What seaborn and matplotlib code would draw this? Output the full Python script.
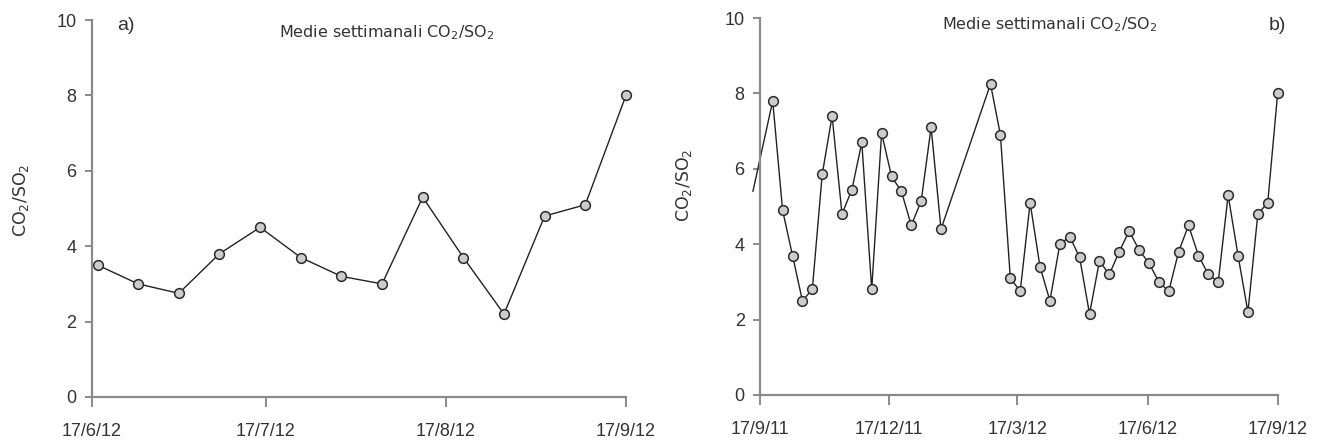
import pandas as pd
import seaborn as sns
import matplotlib.pyplot as plt

# Weekly averages CO2/SO2 - panel a (last three months)
dates_a = ["2012-06-18", "2012-06-25", "2012-07-02", "2012-07-09", "2012-07-16",
           "2012-07-23", "2012-07-30", "2012-08-06", "2012-08-13", "2012-08-20",
           "2012-08-27", "2012-09-03", "2012-09-10", "2012-09-17"]
ratio_a = [3.5, 3.0, 2.75, 3.8, 4.5, 3.7, 3.2, 3.0, 5.3, 3.7, 2.2, 4.8, 5.1, 8.0]

# panel b (one year, gap between late January and late February)
dates_b = ["2011-09-12",
           "2011-09-26", "2011-10-03", "2011-10-10", "2011-10-17", "2011-10-24",
           "2011-10-31", "2011-11-07", "2011-11-14", "2011-11-21", "2011-11-28",
           "2011-12-05", "2011-12-12", "2011-12-19", "2011-12-26", "2012-01-02",
           "2012-01-09", "2012-01-16", "2012-01-23",
           "2012-02-27", "2012-03-05", "2012-03-12", "2012-03-19", "2012-03-26",
           "2012-04-02", "2012-04-09", "2012-04-16", "2012-04-23", "2012-04-30",
           "2012-05-07", "2012-05-14", "2012-05-21", "2012-05-28", "2012-06-04",
           "2012-06-11", "2012-06-18", "2012-06-25", "2012-07-02", "2012-07-09",
           "2012-07-16", "2012-07-23", "2012-07-30", "2012-08-06", "2012-08-13",
           "2012-08-20", "2012-08-27", "2012-09-03", "2012-09-10", "2012-09-17"]
ratio_b = [5.4,
           7.8, 4.9, 3.7, 2.5, 2.8, 5.85, 7.4, 4.8, 5.45, 6.7,
           2.8, 6.95, 5.8, 5.4, 4.5, 5.15, 7.1, 4.4,
           8.25, 6.9, 3.1, 2.75, 5.1, 3.4, 2.5, 4.0, 4.2, 3.65,
           2.15, 3.55, 3.2, 3.8, 4.35, 3.85, 3.5, 3.0, 2.75, 3.8,
           4.5, 3.7, 3.2, 3.0, 5.3, 3.7, 2.2, 4.8, 5.1, 8.0]

ticks_a = ["2012-06-17", "2012-07-17", "2012-08-17", "2012-09-17"]
labels_a = ["17/6/12", "17/7/12", "17/8/12", "17/9/12"]
ticks_b = ["2011-09-17", "2011-12-17", "2012-03-17", "2012-06-17", "2012-09-17"]
labels_b = ["17/9/11", "17/12/11", "17/3/12", "17/6/12", "17/9/12"]

df_a = pd.DataFrame({"data": pd.to_datetime(dates_a), "ratio": ratio_a})
df_b = pd.DataFrame({"data": pd.to_datetime(dates_b), "ratio": ratio_b})

sns.set_style("ticks")
plt.rcParams["font.family"] = ["Liberation Sans", "DejaVu Sans"]
plt.rcParams["mathtext.fontset"] = "dejavusans"

fig = plt.figure(figsize=(13.27, 4.44), dpi=100)
ax1 = fig.add_axes([0.0691, 0.1059, 0.4026, 0.849])
ax2 = fig.add_axes([0.5727, 0.1104, 0.3901, 0.849])

line_kws = dict(marker="o", color="#222222", linewidth=1.0, markersize=7,
                markerfacecolor="#cccccc", markeredgecolor="#2a2a2a",
                markeredgewidth=1.1, clip_on=False)

sns.lineplot(data=df_a, x="data", y="ratio", ax=ax1, **line_kws)
sns.lineplot(data=df_b, x="data", y="ratio", ax=ax2, **line_kws)
# first point of panel b lies before the axis start: no marker there
ax2.lines[0].set_markevery(list(range(1, len(ratio_b))))

panels = [(ax1, ticks_a, labels_a), (ax2, ticks_b, labels_b)]
for ax, tks, lbls in panels:
    tk = pd.to_datetime(tks)
    ax.set_xlim(tk[0], tk[-1])
    ax.set_xticks(tk)
    ax.set_xticklabels(lbls)
    ax.set_ylim(0, 10)
    ax.set_yticks([0, 2, 4, 6, 8, 10])
    ax.set_xlabel("")
    ax.set_ylabel("")
    for side in ["top", "right"]:
        ax.spines[side].set_visible(False)
    for side in ["left", "bottom"]:
        ax.spines[side].set_color("#8a8a8a")
        ax.spines[side].set_linewidth(1.6)
    ax.tick_params(axis="y", length=5, width=1.4, color="#8a8a8a",
                   labelsize=13, labelcolor="#333333", pad=6)
    ax.tick_params(axis="x", length=7, width=1.4, color="#8a8a8a",
                   labelsize=13, labelcolor="#333333", pad=12)

# titles, panel letters and y labels
title = r"Medie settimanali CO$_2$/SO$_2$"
fig.text(387 / 1327, 1 - 33 / 444, title, ha="center", va="center",
         fontsize=11.5, color="#333333", family="DejaVu Sans")
fig.text(1050 / 1327, 1 - 25 / 444, title, ha="center", va="center",
         fontsize=11.5, color="#333333", family="DejaVu Sans")
fig.text(126 / 1327, 1 - 25 / 444, "a)", ha="center", va="center",
         fontsize=14, color="#333333")
fig.text(1277 / 1327, 1 - 25 / 444, "b)", ha="center", va="center",
         fontsize=14, color="#333333")
ylab = r"CO$_2$/SO$_2$"
fig.text(21 / 1327, 1 - 200 / 444, ylab, rotation=90, ha="center",
         va="center", fontsize=12.5, color="#333333", family="DejaVu Sans")
fig.text(684 / 1327, 1 - 185 / 444, ylab, rotation=90, ha="center",
         va="center", fontsize=12.5, color="#333333", family="DejaVu Sans")

plt.savefig("out.png", dpi=100)
